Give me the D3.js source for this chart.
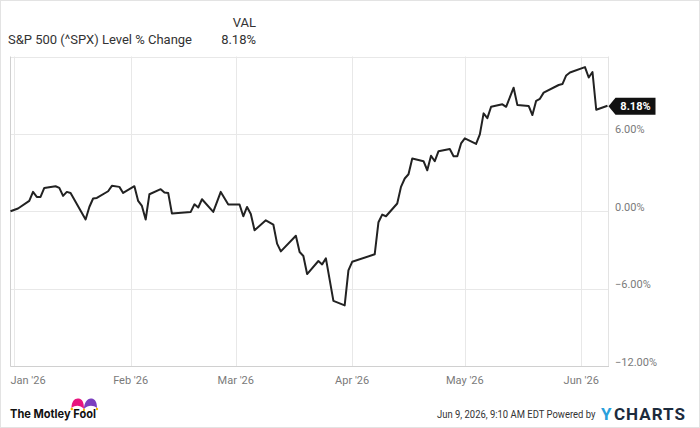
<!DOCTYPE html>
<html>
<head>
<meta charset="utf-8">
<script src="https://cdn.jsdelivr.net/npm/d3@7"></script>
<style>
  html, body { margin: 0; padding: 0; background: #fff; }
  svg { display: block; font-family: Roboto, "Open Sans", sans-serif; }
</style>
</head>
<body>
<svg id="chart" width="700" height="428"></svg>
<script>
// Data (close-to-close % change vs Dec 31 2025)
var dates = [
  "2025-12-31","2026-01-02","2026-01-05","2026-01-06","2026-01-07","2026-01-08","2026-01-09",
  "2026-01-12","2026-01-13","2026-01-14","2026-01-15","2026-01-16","2026-01-20","2026-01-21",
  "2026-01-22","2026-01-23","2026-01-26","2026-01-27","2026-01-29","2026-01-30","2026-02-02",
  "2026-02-03","2026-02-04","2026-02-05","2026-02-06","2026-02-09","2026-02-10","2026-02-11",
  "2026-02-12","2026-02-17","2026-02-18","2026-02-19","2026-02-20","2026-02-23","2026-02-25",
  "2026-02-27","2026-03-02","2026-03-03","2026-03-04","2026-03-05","2026-03-06","2026-03-09",
  "2026-03-11","2026-03-12","2026-03-13","2026-03-17","2026-03-18","2026-03-19","2026-03-20",
  "2026-03-23","2026-03-24","2026-03-25","2026-03-27","2026-03-30","2026-03-31","2026-04-01",
  "2026-04-07","2026-04-08","2026-04-09","2026-04-10","2026-04-13","2026-04-14","2026-04-15",
  "2026-04-16","2026-04-17","2026-04-20","2026-04-21","2026-04-22","2026-04-23","2026-04-24",
  "2026-04-27","2026-04-28","2026-04-29","2026-04-30","2026-05-01","2026-05-04","2026-05-05",
  "2026-05-06","2026-05-07","2026-05-08","2026-05-11","2026-05-12","2026-05-14","2026-05-15",
  "2026-05-18","2026-05-19","2026-05-20","2026-05-21","2026-05-22","2026-05-26","2026-05-27",
  "2026-05-28","2026-05-29","2026-06-02","2026-06-03","2026-06-04","2026-06-05","2026-06-08"
];
var values = [
  0.00, 0.21, 0.80, 1.50, 1.11, 1.11, 1.81,
  1.94, 1.81, 1.19, 1.50, 1.42, -0.64, 0.33,
  0.99, 1.03, 1.55, 1.97, 1.89, 1.42, 1.94,
  0.80, 0.41, -0.64, 1.32, 1.71, 1.45, 1.42,
  -0.18, -0.05, 0.54, 0.29, 0.93, -0.05, 1.50,
  0.52, 0.52, -0.39, 0.33, -0.22, -1.48, -0.70,
  -1.03, -2.51, -3.11, -1.90, -3.16, -3.47, -4.87,
  -3.86, -4.12, -3.65, -6.95, -7.30, -4.58, -3.92,
  -3.34, -0.85, -0.26, -0.39, 0.60, 1.89, 2.54,
  2.87, 4.09, 3.88, 3.18, 4.30, 3.88, 4.66,
  4.82, 4.27, 4.27, 5.26, 5.65, 5.22, 5.96,
  7.59, 7.22, 8.10, 8.29, 8.10, 9.58, 8.23,
  8.17, 7.46, 8.56, 8.72, 9.20, 9.79, 9.86,
  10.53, 10.76, 11.18, 10.37, 10.80, 7.87, 8.18
];
var monthTicks = ["2026-01-01","2026-02-01","2026-03-01","2026-04-01","2026-05-01","2026-06-01"];
var yTicks = [12, 6, 0, -6, -12];
var seriesName = "S&P 500 (^SPX) Level % Change";
var lastLabel = "8.18%";

var parse = d3.utcParse("%Y-%m-%d");
var data = dates.map(function(d, i) { return {date: parse(d), value: values[i]}; });

const svg = d3.select("#chart");
const W = 700, H = 428;
const plot = {left: 10.5, right: 608, top: 56.5, bottom: 366};

// outer frame
svg.append("rect")
  .attr("x", 0.5).attr("y", 0.5)
  .attr("width", W - 1).attr("height", H - 1)
  .attr("fill", "#fff").attr("stroke", "#e3e3e3");

const xscale = d3.scaleUtc()
  .domain([parse("2025-12-31"), parse("2026-06-08")])
  .range([plot.left, 607.5]);

const yscale = d3.scaleLinear()
  .domain([-12, 12])
  .range([plot.bottom, plot.top]);

// grid
const grid = svg.append("g");
grid.selectAll(".hgrid")
  .data(yTicks)
  .join("line")
  .attr("x1", plot.left).attr("x2", plot.right)
  .attr("y1", d => Math.round(yscale(d)) + 0.5)
  .attr("y2", d => Math.round(yscale(d)) + 0.5)
  .attr("stroke", "#e8e8e8");

grid.selectAll(".vgrid")
  .data(monthTicks)
  .join("line")
  .attr("x1", d => Math.round(xscale(parse(d))) + 0.5)
  .attr("x2", d => Math.round(xscale(parse(d))) + 0.5)
  .attr("y1", plot.top).attr("y2", plot.bottom)
  .attr("stroke", "#e8e8e8");

// plot border
svg.append("line")
  .attr("x1", plot.right + 0.5).attr("x2", plot.right + 0.5)
  .attr("y1", plot.top).attr("y2", plot.bottom)
  .attr("stroke", "#e3e3e3");
svg.append("line")
  .attr("x1", plot.left).attr("x2", plot.left)
  .attr("y1", plot.top).attr("y2", plot.bottom + 0.5)
  .attr("stroke", "#d0d0d0");
svg.append("line")
  .attr("x1", plot.left).attr("x2", plot.right + 1)
  .attr("y1", plot.bottom + 0.5).attr("y2", plot.bottom + 0.5)
  .attr("stroke", "#d0d0d0");

// y labels
svg.append("g").selectAll("text")
  .data(yTicks.filter(d => d !== 12))
  .join("text")
  .attr("x", 615)
  .attr("y", d => yscale(d) - 0.5)
  .attr("font-size", 11)
  .attr("fill", "#7a7a7a")
  .text(d => d3.format(".2f")(d) + "%");

// x labels
svg.append("g").selectAll("text")
  .data(monthTicks)
  .join("text")
  .attr("x", (d, i) => i === 0 ? plot.left : xscale(parse(d)))
  .attr("y", 384)
  .attr("text-anchor", (d, i) => i === 0 ? "start" : "middle")
  .attr("font-size", 11)
  .attr("fill", "#7a7a7a")
  .text(d => d3.utcFormat("%b '%y")(parse(d)));

// line
var line = d3.line()
  .x(d => xscale(d.date))
  .y(d => yscale(d.value));

svg.append("path")
  .datum(data)
  .attr("d", line)
  .attr("fill", "none")
  .attr("stroke", "#222")
  .attr("stroke-width", 2)
  .attr("stroke-linejoin", "round");

// last value callout
var last = data[data.length - 1];
var lx = xscale(last.date) + 1, ly = yscale(last.value) + 0.5;
svg.append("path")
  .attr("d", `M${lx},${ly} L${lx + 7},${ly - 8.5} L${lx + 47},${ly - 8.5} L${lx + 47},${ly + 8.5} L${lx + 7},${ly + 8.5} Z`)
  .attr("fill", "#111");
svg.append("text")
  .attr("x", lx + 27).attr("y", ly + 4)
  .attr("text-anchor", "middle")
  .attr("font-size", 11).attr("font-weight", 700)
  .attr("fill", "#fff")
  .text(lastLabel);

// header
svg.append("text")
  .attr("x", 256).attr("y", 27)
  .attr("text-anchor", "end")
  .attr("font-size", 13).attr("fill", "#333")
  .text("VAL");
svg.append("text")
  .attr("x", 8).attr("y", 44)
  .attr("font-size", 13).attr("fill", "#333")
  .text(seriesName);
svg.append("text")
  .attr("x", 256).attr("y", 44)
  .attr("text-anchor", "end")
  .attr("font-size", 13).attr("fill", "#333")
  .text(lastLabel);

// footer: Motley Fool logo
const logo = svg.append("g");
logo.append("path")
  .attr("d", "M71.5,408 C71.5,401 75,398 78.5,398.5 C82.5,399 84,402.5 84,409 C80,405 75.5,405 71.5,408 Z")
  .attr("fill", "#e8157f");
logo.append("path")
  .attr("d", "M84,409 C84,402.5 87.5,398 91.5,398.5 C95.5,399 97,402.5 97,408 C93,405 88,405 84,409 Z")
  .attr("fill", "#7b3fbf");
logo.selectAll("circle")
  .data([[71.8, 409], [84, 410], [97, 409]])
  .join("circle")
  .attr("cx", d => d[0]).attr("cy", d => d[1]).attr("r", 1.2)
  .attr("fill", "#f5b800");
logo.append("text")
  .attr("x", 10).attr("y", 418)
  .attr("font-family", "Inter, Roboto, sans-serif")
  .attr("font-size", 12).attr("font-weight", 700)
  .attr("fill", "#111")
  .attr("textLength", 86).attr("lengthAdjust", "spacingAndGlyphs")
  .text("The Motley Fool");

// footer: timestamp + YCHARTS
svg.append("text")
  .attr("transform", "translate(437,418) scale(0.86,1)")
  .attr("font-size", 11).attr("fill", "#333")
  .text("Jun 9, 2026, 9:10 AM EDT Powered by");
svg.append("text")
  .attr("x", 601).attr("y", 420)
  .attr("font-size", 17).attr("font-weight", 700)
  .attr("fill", "#2a9fdc")
  .text("Y");
svg.append("text")
  .attr("x", 614).attr("y", 420)
  .attr("font-size", 17).attr("font-weight", 700)
  .attr("letter-spacing", 1)
  .attr("fill", "#1c2b3d")
  .text("CHARTS");
</script>
</body>
</html>
